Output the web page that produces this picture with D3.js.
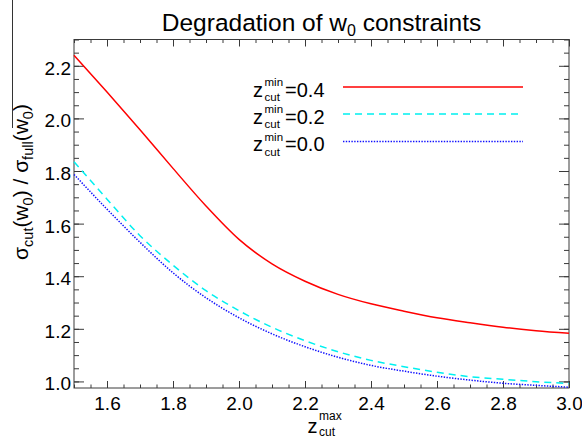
<!DOCTYPE html>
<html>
<head>
<meta charset="utf-8">
<script src="https://cdn.jsdelivr.net/npm/d3@7"></script>
<style>
  body { margin: 0; background: #fff; }
  svg { display: block; font-family: "Liberation Sans", Arial, Helvetica, sans-serif; }
</style>
</head>
<body>
<svg id="chart" width="582" height="437"></svg>
<script>
// Upper redshift cut z_cut^max
const zCutMax = [1.5, 1.6, 1.7, 1.8, 1.9, 2.0, 2.1, 2.2, 2.3, 2.4, 2.5, 2.6, 2.7, 2.8, 2.9, 3.0];

// sigma_cut(w0) / sigma_full(w0) for each lower cut z_cut^min
const ratioMin04 = [2.240, 2.100, 1.957, 1.810, 1.667, 1.540, 1.447, 1.381, 1.331, 1.295, 1.267, 1.242, 1.223, 1.206, 1.193, 1.183];
const ratioMin02 = [1.835, 1.693, 1.554, 1.442, 1.345, 1.269, 1.206, 1.155, 1.113, 1.080, 1.056, 1.035, 1.018, 1.008, 0.999, 0.992];
const ratioMin00 = [1.787, 1.655, 1.529, 1.413, 1.318, 1.242, 1.181, 1.132, 1.092, 1.061, 1.039, 1.020, 1.005, 0.993, 0.985, 0.978];

const legendValues = ["=0.4", "=0.2", "=0.0"];
const xTickValues = [1.6, 1.8, 2.0, 2.2, 2.4, 2.6, 2.8, 3.0];
const yTickValues = [1.0, 1.2, 1.4, 1.6, 1.8, 2.0, 2.2];
const xMinorValues = d3.range(31).map(i => +(1.5 + i * 0.05).toFixed(2));
const yMinorValues = d3.range(27).map(i => +(1.0 + i * 0.05).toFixed(2));

const series = [
  { values: ratioMin04, label: legendValues[0], color: "#ff0000", dash: null },
  { values: ratioMin02, label: legendValues[1], color: "#00f0f0", dash: "7,5" },
  { values: ratioMin00, label: legendValues[2], color: "#1010ff", dash: "1.4,1.4" }
];

const plotLeft = 74, plotRight = 569, plotTop = 39.5, plotBottom = 388;

const svg = d3.select("#chart");
const x = d3.scaleLinear().domain([1.5, 3.0]).range([plotLeft, plotRight]);
const y = d3.scaleLinear().domain([0.975, 2.3]).range([plotBottom, plotTop]);

const axisColor = "#3a3a3a";

function styleAxis(g) {
  g.select(".domain").remove();
  g.selectAll(".tick line").attr("stroke", axisColor).attr("stroke-width", 1);
  g.selectAll(".tick text").attr("fill", "#000").attr("font-size", 19)
    .attr("font-family", "'Liberation Sans', Arial, Helvetica, sans-serif");
}

// minor ticks on all four sides
svg.append("g").attr("transform", `translate(0,${plotBottom})`)
  .call(d3.axisBottom(x).tickValues(xMinorValues).tickSize(-3.5).tickFormat(""))
  .call(styleAxis);
svg.append("g").attr("transform", `translate(0,${plotTop})`)
  .call(d3.axisTop(x).tickValues(xMinorValues).tickSize(-3.5).tickFormat(""))
  .call(styleAxis);
svg.append("g").attr("transform", `translate(${plotLeft},0)`)
  .call(d3.axisLeft(y).tickValues(yMinorValues).tickSize(-5).tickFormat(""))
  .call(styleAxis);
svg.append("g").attr("transform", `translate(${plotRight},0)`)
  .call(d3.axisRight(y).tickValues(yMinorValues).tickSize(-5).tickFormat(""))
  .call(styleAxis);

// major ticks and labels
svg.append("g").attr("transform", `translate(0,${plotBottom})`)
  .call(d3.axisBottom(x).tickValues(xTickValues).tickSize(-7).tickPadding(9).tickFormat(d3.format(".1f")))
  .call(styleAxis);
svg.append("g").attr("transform", `translate(0,${plotTop})`)
  .call(d3.axisTop(x).tickValues(xTickValues).tickSize(-7).tickFormat(""))
  .call(styleAxis);
const gy = svg.append("g").attr("transform", `translate(${plotLeft},0)`)
  .call(d3.axisLeft(y).tickValues(yTickValues).tickSize(-10).tickPadding(3).tickFormat(d3.format(".1f")))
  .call(styleAxis);
gy.selectAll(".tick text").attr("dy", "0.45em");
svg.append("g").attr("transform", `translate(${plotRight},0)`)
  .call(d3.axisRight(y).tickValues(yTickValues).tickSize(-10).tickFormat(""))
  .call(styleAxis);

// plot frame
svg.append("rect")
  .attr("x", plotLeft).attr("y", plotTop)
  .attr("width", plotRight - plotLeft).attr("height", plotBottom - plotTop)
  .attr("fill", "none").attr("stroke", axisColor).attr("stroke-width", 1);

// curves
const line = d3.line()
  .x((d, i) => x(zCutMax[i]))
  .y(d => y(d))
  .curve(d3.curveMonotoneX);

series.forEach(s => {
  svg.append("path")
    .datum(s.values)
    .attr("d", line)
    .attr("fill", "none")
    .attr("stroke", s.color)
    .attr("stroke-width", 1.5)
    .attr("stroke-dasharray", s.dash);
});

// z with stacked super/subscript
function zLabel(parent, x0, baseline, supText, subText, size, smallSize, supRise, subDrop) {
  const g = parent.append("g");
  const main = g.append("text").attr("x", x0).attr("y", baseline)
    .attr("font-size", size).text("z");
  const zw = main.node().getComputedTextLength();
  const sx = x0 + zw + 1.5;
  const sup = g.append("text").attr("x", sx).attr("y", baseline - supRise)
    .attr("font-size", smallSize).text(supText);
  const sub = g.append("text").attr("x", sx).attr("y", baseline + subDrop)
    .attr("font-size", smallSize).text(subText);
  const end = sx + Math.max(sup.node().getComputedTextLength(), sub.node().getComputedTextLength());
  return { g, end };
}

// legend
const legendRows = [87, 114, 141.5];
series.forEach((s, i) => {
  const ly = legendRows[i];
  const lab = zLabel(svg, 253, ly + 9.5, "min", "cut", 20, 11.5, 10.5, 4.5);
  svg.append("text").attr("x", lab.end + 2).attr("y", ly + 9.5)
    .attr("font-size", 20).text(s.label);
  svg.append("line")
    .attr("x1", 343).attr("x2", 523).attr("y1", ly).attr("y2", ly)
    .attr("stroke", s.color).attr("stroke-width", 1.5)
    .attr("stroke-dasharray", s.dash);
});

// title
const title = svg.append("text")
  .attr("x", (plotLeft + plotRight) / 2).attr("y", 31)
  .attr("text-anchor", "middle").attr("font-size", 24.5);
title.append("tspan").text("Degradation of w");
title.append("tspan").attr("font-size", 16).attr("dy", 5).text("0");
title.append("tspan").attr("dy", -5).text(" constraints");

// x-axis title
zLabel(svg, 307.5, 433, "max", "cut", 20, 12, 13, 2.5);

// y-axis title
const yt = svg.append("text")
  .attr("transform", `translate(28,182) rotate(-90)`)
  .attr("text-anchor", "middle").attr("font-size", 21);
yt.append("tspan").text("\u03c3");
yt.append("tspan").attr("font-size", 14.5).attr("dy", 5).text("cut");
yt.append("tspan").attr("dy", -5).text("(w");
yt.append("tspan").attr("font-size", 14.5).attr("dy", 5).text("0");
yt.append("tspan").attr("dy", -5).text(") / \u03c3");
yt.append("tspan").attr("font-size", 14.5).attr("dy", 5).text("full");
yt.append("tspan").attr("dy", -5).text("(w");
yt.append("tspan").attr("font-size", 14.5).attr("dy", 5).text("0");
yt.append("tspan").attr("dy", -5).text(")");

// page edge rule on the far left
svg.append("line")
  .attr("x1", 12.5).attr("x2", 12.5).attr("y1", 0).attr("y2", 128)
  .attr("stroke", "#333").attr("stroke-width", 1);
</script>
</body>
</html>
